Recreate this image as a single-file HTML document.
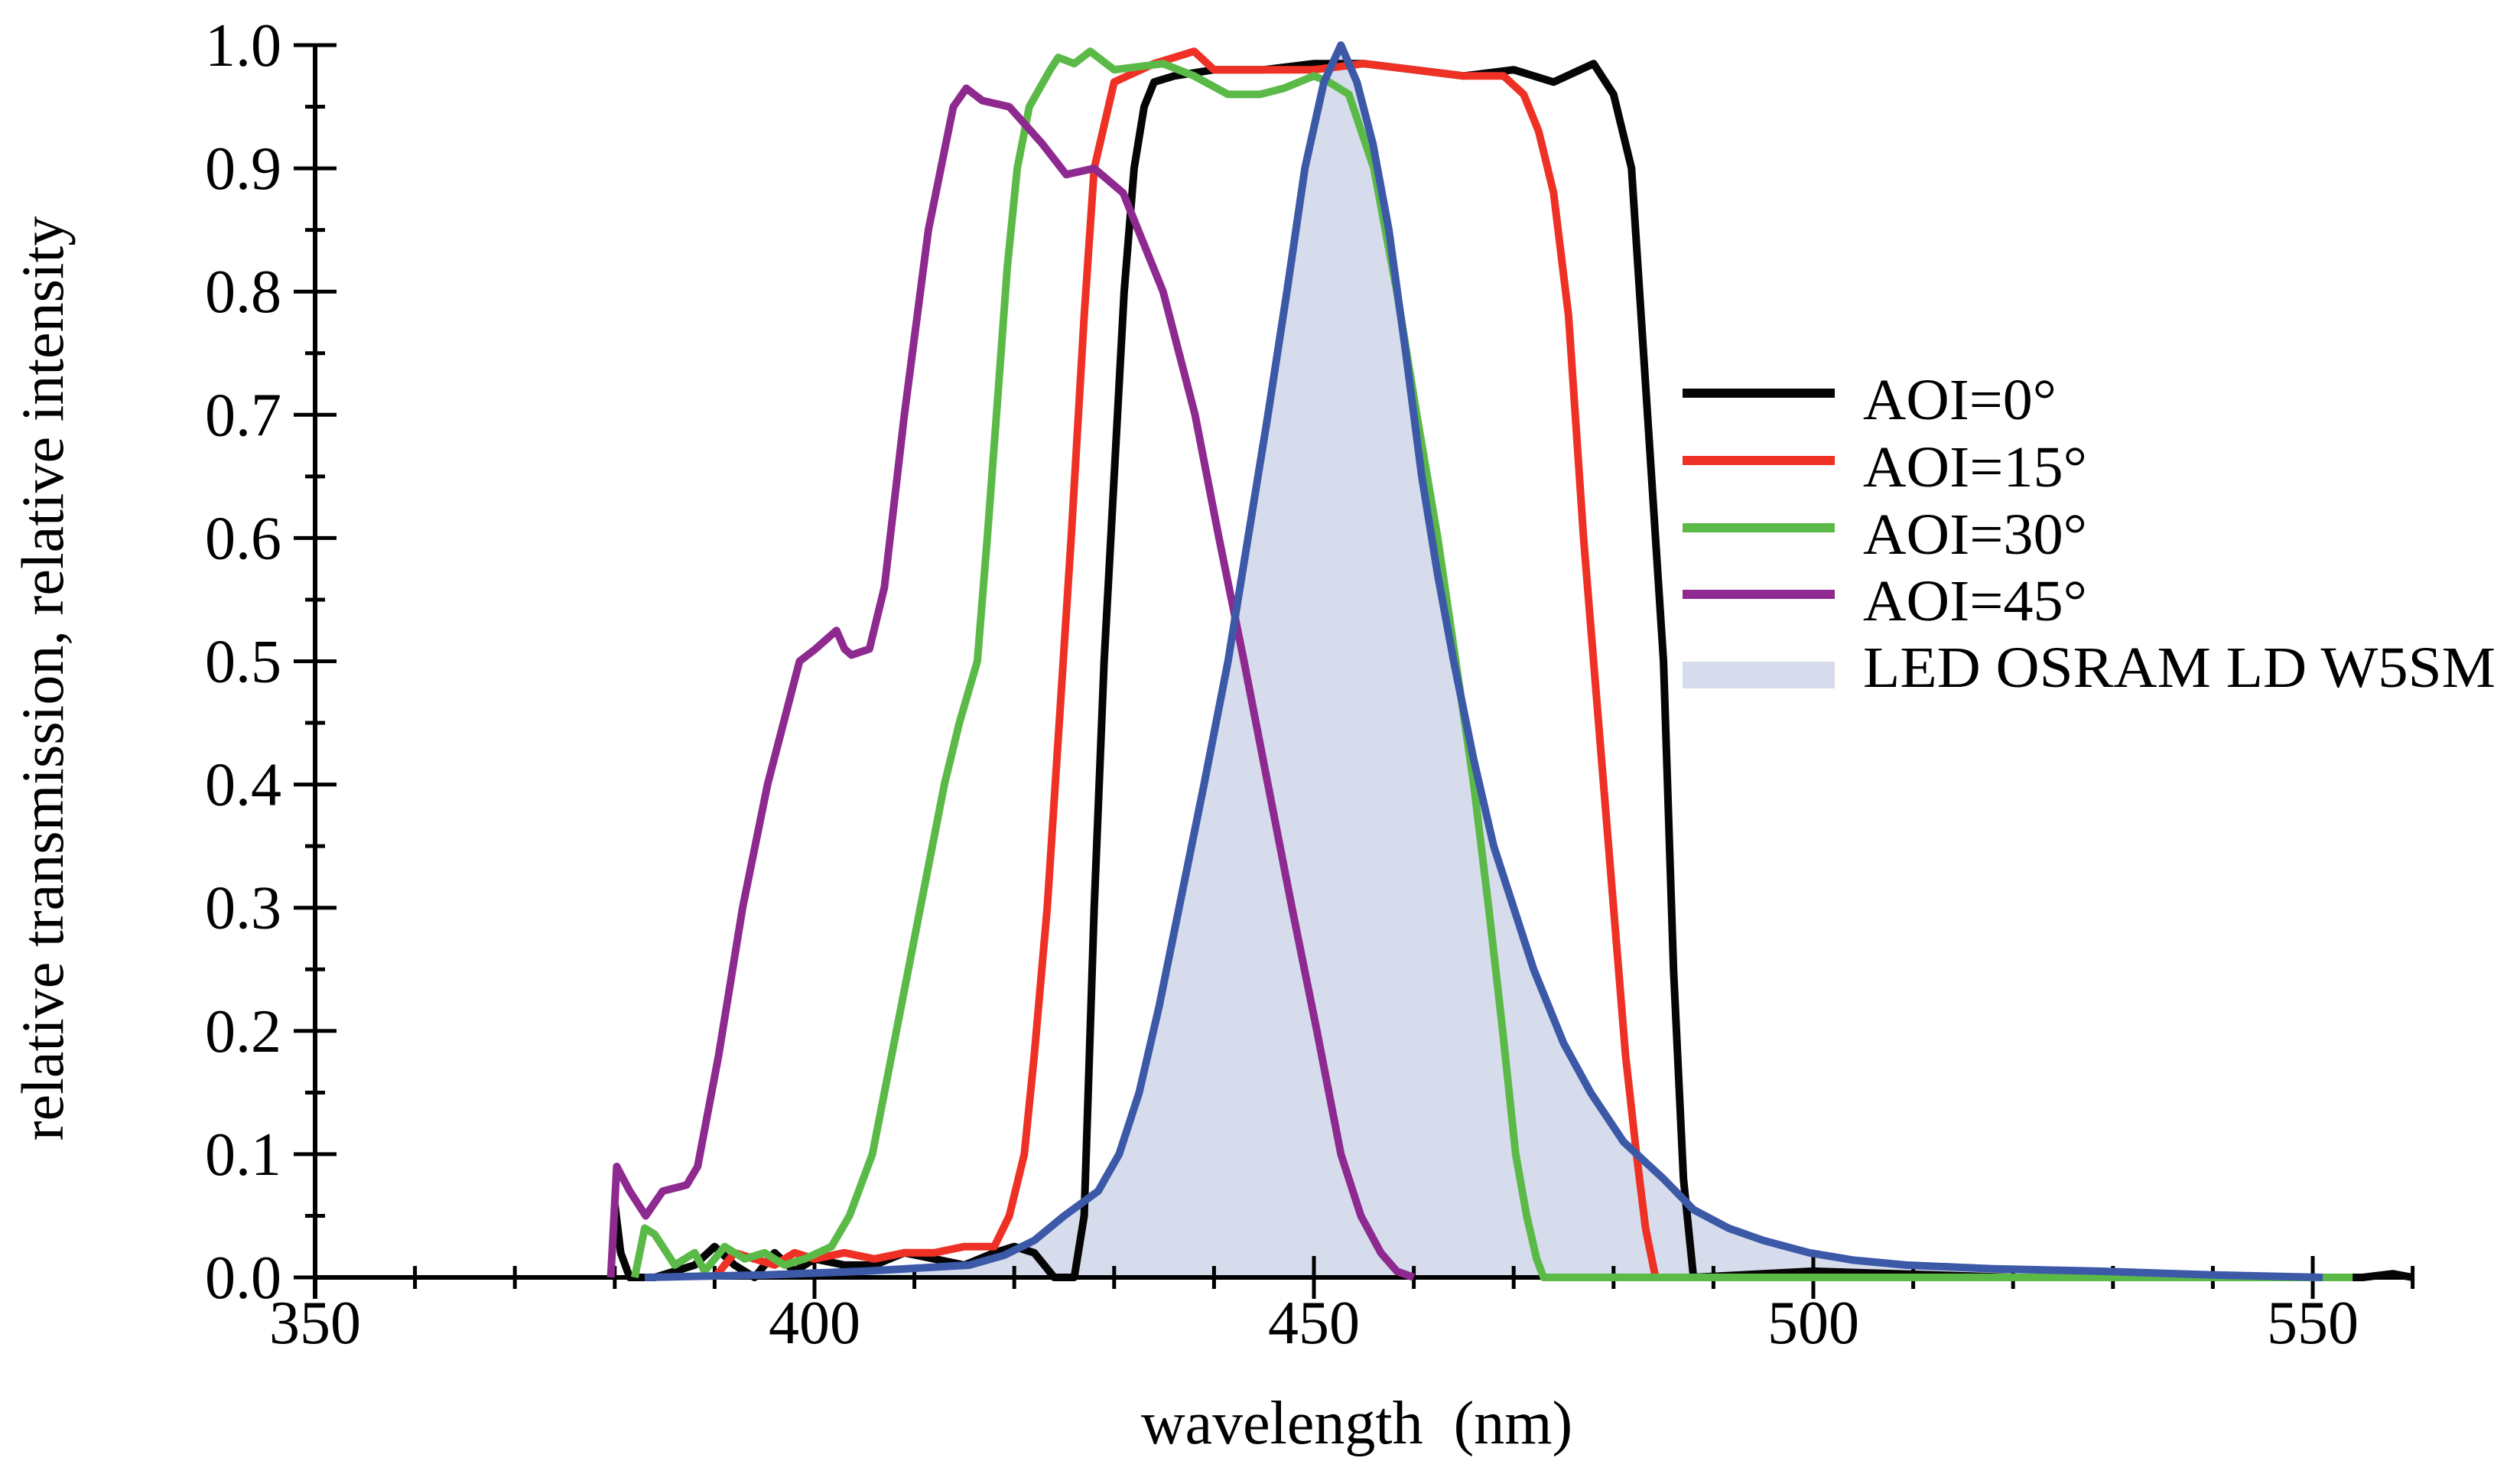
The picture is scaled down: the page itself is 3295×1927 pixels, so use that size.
<!DOCTYPE html>
<html><head><meta charset="utf-8"><style>
html,body{margin:0;padding:0;background:#fff;}
svg{display:block;font-family:"Liberation Serif",serif;}
</style></head><body>
<svg id="chart" width="3295" height="1927" viewBox="0 0 3295 1927" xmlns="http://www.w3.org/2000/svg">
<g id="fillLayer"></g>
<g id="axes"></g>
<g id="lines"></g>
<text x="1774" y="1887" font-size="80" text-anchor="middle" xml:space="preserve">wavelength  (nm)</text>
<text transform="translate(82,887) rotate(-90)" font-size="78" text-anchor="middle">relative transmission, relative intensity</text>
<g id="legend"></g>
</svg>
<script>
const aoi0X=[380,380.6,381.5,384,388,390,392,394,396,398,400,403,406,409,412,415,418,420,422,423,424,426,427,428,429,430,431,432,433,434,436,440,445,450,455,460,465,470,474,478,480,481.8,483,485,486,487,488,500,520,540,555,558,560];
const aoi0Y=[0.06,0.02,0,0,0.01,0.025,0.01,0,0.02,0.005,0.015,0.01,0.01,0.02,0.015,0.01,0.02,0.025,0.02,0.01,0,0,0.05,0.3,0.5,0.65,0.8,0.9,0.95,0.97,0.975,0.98,0.98,0.985,0.985,0.98,0.975,0.98,0.97,0.985,0.96,0.9,0.75,0.5,0.25,0.08,0,0.005,0,0,0,0.003,0];
const aoi15X=[390,392,394,396,398,400,403,406,409,412,415,418,419.5,421,422,423.3,424.5,425.7,427,428,430,434,438,440,445,450,455,460,465,469,471,472.5,474,475.5,477,478.5,480,481.2,482.3,483.2,484.2,490,520,550];
const aoi15Y=[0,0.02,0.015,0.01,0.02,0.015,0.02,0.015,0.02,0.02,0.025,0.025,0.05,0.1,0.18,0.3,0.45,0.6,0.78,0.9,0.97,0.985,0.995,0.98,0.98,0.98,0.985,0.98,0.975,0.975,0.96,0.93,0.88,0.78,0.6,0.45,0.3,0.18,0.1,0.04,0,0,0,0];
const aoi30X=[382,383,384,386,388,389,391,393,395,397,399,401.7,403.5,405.8,408.2,410.6,413,414.5,416.3,417.3,418.4,419.3,420.3,421.5,423.6,424.4,426,427.6,430,434.9,438,441.4,444.6,447,450,451.5,453.5,456,458.3,460.3,462.4,464.2,466,467.5,468.9,470.2,471.3,472.3,473,480,500,530,554];
const aoi30Y=[0,0.04,0.035,0.01,0.02,0.005,0.025,0.015,0.02,0.01,0.015,0.025,0.05,0.1,0.2,0.3,0.4,0.45,0.5,0.6,0.72,0.82,0.9,0.95,0.98,0.99,0.985,0.995,0.98,0.985,0.975,0.96,0.96,0.965,0.975,0.97,0.96,0.9,0.8,0.7,0.6,0.5,0.4,0.3,0.2,0.1,0.05,0.015,0,0,0,0,0];
const aoi45X=[379.6,380.2,381.5,383.1,384.8,387.2,388.3,390.4,392.8,395.3,398.5,400.1,402.2,403,403.7,405.5,407,409,411.4,413.9,415.2,416.8,419.5,422.8,425.2,428,430.9,434.9,438.1,440.5,443,445.4,447.8,450.3,452.7,454.7,456.7,458.3,460];
const aoi45Y=[0,0.09,0.07,0.05,0.07,0.075,0.09,0.18,0.3,0.4,0.5,0.51,0.525,0.51,0.505,0.51,0.56,0.7,0.85,0.95,0.965,0.955,0.95,0.92,0.895,0.9,0.88,0.8,0.7,0.6,0.5,0.4,0.3,0.2,0.1,0.05,0.02,0.005,0];
const ledX=[383,395,405,415.5,419,422,425,428.4,430.5,432.5,434.5,436.5,439,441.4,443.4,445.4,447.3,449.1,451,452.7,454.3,455.9,457.5,459.2,460.8,462.4,464,466,468,470,472,475,477.7,481,485,488,491.5,495,499.6,504,509.3,518,528.7,540,551];
const ledY=[0,0.002,0.005,0.01,0.018,0.03,0.05,0.07,0.1,0.15,0.22,0.3,0.4,0.5,0.6,0.7,0.8,0.9,0.97,1.0,0.97,0.92,0.85,0.75,0.65,0.57,0.5,0.42,0.35,0.3,0.25,0.19,0.15,0.11,0.08,0.055,0.04,0.03,0.02,0.014,0.01,0.007,0.005,0.002,0];
const xTicks=[350,400,450,500,550];
const yTicks=[0.0,0.1,0.2,0.3,0.4,0.5,0.6,0.7,0.8,0.9,1.0];
const legendLabels=["AOI=0°","AOI=15°","AOI=30°","AOI=45°","LED OSRAM LD W5SM"];

const NS="http://www.w3.org/2000/svg";
const X0=412, XS=13.06, Y0=1670, YS=1611;
function sx(v){return X0+(v-350)*XS;}
function sy(v){return Y0-v*YS;}
function mk(tag,attrs,parent){const e=document.createElementNS(NS,tag);for(const k in attrs)e.setAttribute(k,attrs[k]);parent.appendChild(e);return e;}
const axes=document.getElementById('axes');
const fillL=document.getElementById('fillLayer');
const linesL=document.getElementById('lines');
const leg=document.getElementById('legend');

let fd='M'+sx(ledX[0])+','+sy(0);
for(let i=0;i<ledX.length;i++)fd+=' L'+sx(ledX[i]).toFixed(1)+','+sy(ledY[i]).toFixed(1);
fd+=' L'+sx(ledX[ledX.length-1])+','+sy(0)+' Z';
const fp=mk('path',{d:fd,fill:'#d6dcec',stroke:'none'},fillL);



const xl=mk('line',{x1:X0,y1:Y0,x2:sx(560),y2:Y0,stroke:'#000','stroke-width':6},axes);


const yl=mk('line',{x1:X0,y1:Y0+28,x2:X0,y2:sy(1.0),stroke:'#000','stroke-width':6},axes);


for(let v=350;v<=560;v+=10){
  const major=(v%50===0);
  const t=mk('line',{x1:sx(v),y1:major?Y0-28:Y0-15,x2:sx(v),y2:major?Y0+28:Y0+15,stroke:'#000','stroke-width':5},axes);
  
  
}
xTicks.forEach(v=>{
  const t=mk('text',{x:sx(v),y:Y0+86,'font-size':80,'text-anchor':'middle'},axes);
  t.textContent=String(v);
  
  
});
for(let i=0;i<=20;i++){
  const v=i*0.05, major=(i%2===0);
  const t=mk('line',{x1:major?X0-28:X0-13,y1:sy(v),x2:major?X0+28:X0+13,y2:sy(v),stroke:'#000','stroke-width':5},axes);
  
  
}
yTicks.forEach(v=>{
  const t=mk('text',{x:368,y:sy(v)+27,'font-size':80,'text-anchor':'end'},axes);
  t.textContent=v.toFixed(1);
  
  
});

function line(xs,ys,color,name){
  let d='';
  for(let i=0;i<xs.length;i++)d+=(i?' L':'M')+sx(xs[i]).toFixed(1)+','+sy(ys[i]).toFixed(1);
  const p=mk('path',{d:d,fill:'none',stroke:color,'stroke-width':10,'stroke-linejoin':'round'},linesL);
  
  
}
line(aoi0X,aoi0Y,'#050505','series-aoi-0');
line(aoi15X,aoi15Y,'#ee3124','series-aoi-15');
line(aoi30X,aoi30Y,'#5bba47','series-aoi-30');
line(aoi45X,aoi45Y,'#8e2a8f','series-aoi-45');
line(ledX,ledY,'#3c59a8','series-led');

const colors=['#050505','#ee3124','#5bba47','#8e2a8f'];
const lys=[514,602,690,777];
const bases=[548,636,724,811,898];
const widths=[253,293,293,293,827];
for(let i=0;i<4;i++){
  const l=mk('line',{x1:2200,y1:lys[i],x2:2399,y2:lys[i],stroke:colors[i],'stroke-width':12},leg);
  
  
}
const sw=mk('rect',{x:2200,y:865,width:199,height:35,fill:'#d6dcec'},leg);


legendLabels.forEach((s,i)=>{
  const t=mk('text',{x:2436,y:bases[i],'font-size':76,textLength:widths[i],lengthAdjust:'spacingAndGlyphs'},leg);
  t.textContent=s;
  
  
});
</script>
</body></html>
